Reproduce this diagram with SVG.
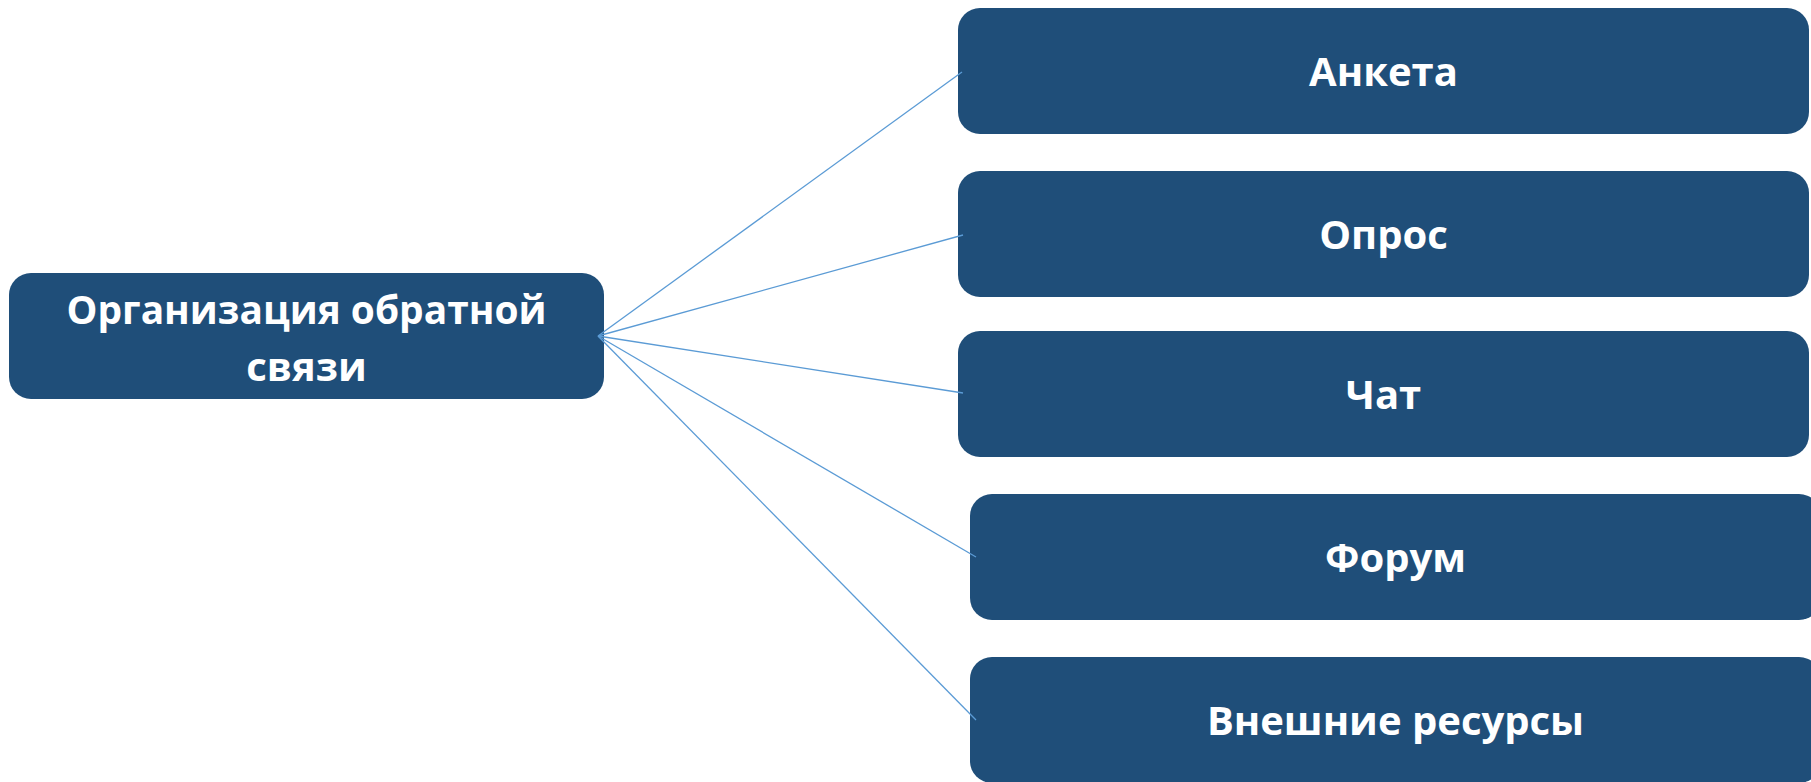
<svg xmlns="http://www.w3.org/2000/svg" width="1811" height="782" viewBox="0 0 1811 782">
  <style>
    .box { fill: #1F4E79; }
    .lbl { fill: #FFFFFF; font-family: "Open Sans", "Noto Sans", "DejaVu Sans", sans-serif; font-weight: bold; font-size: 40px; text-anchor: middle; }
    .conn { stroke: #5B9BD5; stroke-width: 1.3; fill: none; }
  </style>
  <rect width="1811" height="782" fill="#FFFFFF"/>
  <g id="node-main">
    <rect class="box" x="9" y="273" width="595" height="126" rx="22" ry="22"/>
    <text class="lbl" x="306.5" y="324" textLength="480" lengthAdjust="spacingAndGlyphs">Организация обратной</text>
    <text class="lbl" x="306.5" y="381">связи</text>
  </g>
  <g id="node-anketa">
    <rect class="box" x="958" y="8" width="851" height="126" rx="22" ry="22"/>
    <text class="lbl" x="1383.5" y="85.5">Анкета</text>
  </g>
  <g id="node-opros">
    <rect class="box" x="958" y="171" width="851" height="126" rx="22" ry="22"/>
    <text class="lbl" x="1383.5" y="248.5">Опрос</text>
  </g>
  <g id="node-chat">
    <rect class="box" x="958" y="331" width="851" height="126" rx="22" ry="22"/>
    <text class="lbl" x="1383.5" y="408.5">Чат</text>
  </g>
  <g id="node-forum">
    <rect class="box" x="970" y="494" width="851" height="126" rx="22" ry="22"/>
    <text class="lbl" x="1395.5" y="571.5">Форум</text>
  </g>
  <g id="node-external">
    <rect class="box" x="970" y="657" width="851" height="126" rx="22" ry="22"/>
    <text class="lbl" x="1395.5" y="734.5">Внешние ресурсы</text>
  </g>
  <g id="connectors">
    <line class="conn" x1="598" y1="336" x2="962" y2="72"/>
    <line class="conn" x1="598" y1="336" x2="963" y2="235"/>
    <line class="conn" x1="598" y1="336" x2="963" y2="393"/>
    <line class="conn" x1="598" y1="336" x2="976" y2="557"/>
    <line class="conn" x1="598" y1="336" x2="976" y2="720"/>
  </g>
</svg>
